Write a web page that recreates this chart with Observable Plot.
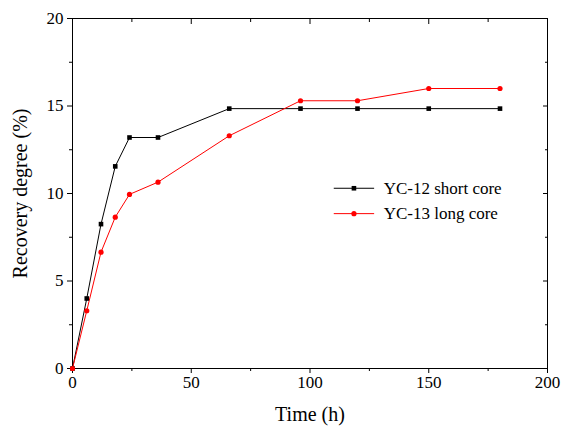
<!DOCTYPE html>
<html><head>
<script src="https://cdn.jsdelivr.net/npm/d3@7"></script>
<script src="https://cdn.jsdelivr.net/npm/@observablehq/plot@0.6"></script>
<style>body{margin:0;background:#fff}</style>
</head><body><div id="c"></div>
<script>
const time = [0, 6, 12, 18, 24, 36, 66, 96, 120, 150, 180];
const yc12 = [0, 4.0, 8.25, 11.55, 13.2, 13.2, 14.85, 14.85, 14.85, 14.85, 14.85];
const yc13 = [0, 3.3, 6.65, 8.65, 9.95, 10.65, 13.3, 15.3, 15.3, 16.0, 16.0];
const seriesNames = ["YC-12 short core", "YC-13 long core"];
const xTicks = [0, 50, 100, 150, 200];
const yTicks = [0, 5, 10, 15, 20];
const colors = ["#000000", "#ff0000"];
const data = [];
time.forEach((t, i) => {
  data.push({t, v: yc12[i], s: seriesNames[0]});
  data.push({t, v: yc13[i], s: seriesNames[1]});
});
const font = "Liberation Serif";
const legend = [{s: seriesNames[0], y: 10.3}, {s: seriesNames[1], y: 8.85}];
const chart = Plot.plot({
  width: 565, height: 440,
  marginLeft: 72, marginRight: 18, marginTop: 18, marginBottom: 72,
  style: {fontFamily: font, fontSize: "17px", color: "#000", background: "#fff"},
  x: {domain: [0, 200]},
  y: {domain: [0, 20]},
  color: {domain: seriesNames, range: colors},
  marks: [
    Plot.frame({stroke: "#000"}),
    Plot.axisX({ticks: xTicks, tickSize: 5, tickFormat: () => "", label: null}),
    Plot.text(xTicks, {x: d => d, frameAnchor: "bottom", dy: 19, fontSize: 17, fontFamily: font}),
    Plot.text(["Time (h)"], {frameAnchor: "bottom", dy: 52, fontSize: 20, fontFamily: font}),
    Plot.axisX({ticks: [25,75,125,175], tickSize: 3, tickFormat: () => "", label: null}),
    Plot.axisX({anchor: "top", ticks: xTicks, tickSize: -5, tickFormat: () => "", label: null}),
    Plot.axisX({anchor: "top", ticks: [25,75,125,175], tickSize: -3, tickFormat: () => "", label: null}),
    Plot.axisY({ticks: yTicks, tickSize: 5, tickFormat: () => "", label: null}),
    Plot.text(yTicks, {y: d => d, frameAnchor: "left", textAnchor: "end", dx: -9, fontSize: 17, fontFamily: font}),
    Plot.text(["Recovery degree (%)"], {frameAnchor: "left", textAnchor: "middle", dx: -52, rotate: -90, fontSize: 20, fontFamily: font}),
    Plot.axisY({ticks: [2.5,7.5,12.5,17.5], tickSize: 3, tickFormat: () => "", label: null}),
    Plot.axisY({anchor: "right", ticks: yTicks, tickSize: -5, tickFormat: () => "", label: null}),
    Plot.axisY({anchor: "right", ticks: [2.5,7.5,12.5,17.5], tickSize: -3, tickFormat: () => "", label: null}),
    Plot.line(data, {x: "t", y: "v", stroke: "s", strokeWidth: 1}),
    Plot.dot(data.filter(d => d.s === seriesNames[0]), {x: "t", y: "v", symbol: "square", r: 2.6, fill: colors[0]}),
    Plot.dot(data.filter(d => d.s === seriesNames[1]), {x: "t", y: "v", symbol: "circle", r: 2.6, fill: colors[1]}),
    Plot.link(legend, {x1: 110, x2: 127, y1: "y", y2: "y", stroke: "s", strokeWidth: 1}),
    Plot.dot(legend, {x: 118.5, y: "y", fill: "s", symbol: (d) => d.s === seriesNames[0] ? "square" : "circle", r: 2.6}),
    Plot.text(legend, {x: 131, y: "y", text: "s", textAnchor: "start", fontSize: 17, fontFamily: font})
  ]
});
document.getElementById("c").append(chart);
</script></body></html>
